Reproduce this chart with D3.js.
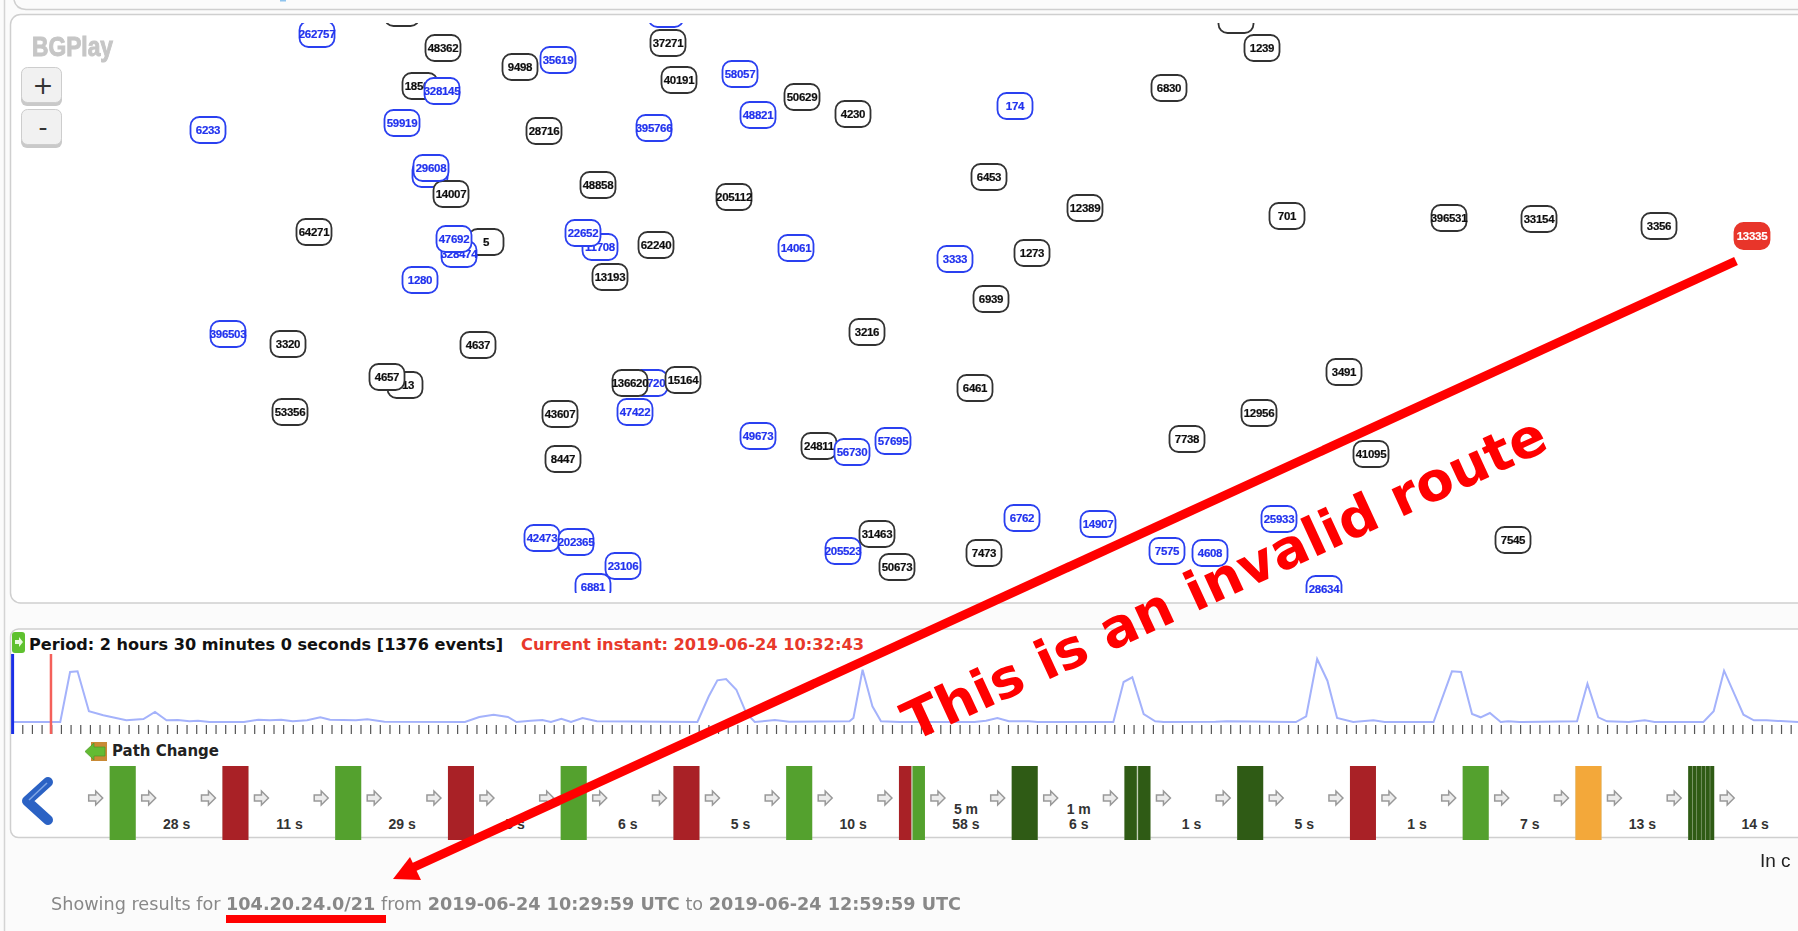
<!DOCTYPE html>
<html>
<head>
<meta charset="utf-8">
<title>BGPlay</title>
<script src="https://d3js.org/d3.v7.min.js"></script>
<style>
  html, body { margin: 0; padding: 0; background: #fbfbfb; overflow: hidden; }
  svg { display: block; }
  text { font-family: "DejaVu Sans", sans-serif; }
  .node text { font-family: "Liberation Sans", sans-serif; font-weight: bold; font-size: 11.5px; letter-spacing: -0.3px; text-anchor: middle; stroke-width: 0.2px; }
</style>
</head>
<body>
<svg id="drawing_region" width="1798" height="931"></svg>
<script>
// AS graph, position in layout units, kind b = black, u = blue, r = red (origin)
const nodeAs = ["", "", "262757", "48362", "37271", "9498", "35619", "40191", "58057", "18506", "328145", "50629", "48821", "4230",
  "6233", "59919", "28716", "395766", "29000", "14007", "29608", "48858", "205112", "64271", "5", "328474", "47692", "11708", "22652",
  "62240", "14061", "1280", "13193", "", "1239", "6830", "174", "6453", "12389", "701", "396531", "33154", "3356", "13335", "3333",
  "1273", "6939", "396503", "3320", "4637", "3216", "513", "4657", "37720", "136620", "15164", "53356", "43607", "47422", "49673",
  "24811", "56730", "57695", "8447", "42473", "202365", "6881", "23106", "205523", "31463", "50673", "6461", "3491", "12956", "7738",
  "41095", "6762", "14907", "7575", "4608", "25933", "7473", "7545", "28634", ""];
const nodeX = [402, 666, 317, 443, 668, 520, 558, 679, 740, 420, 442, 802, 758, 853,
  208, 402, 544, 654, 430, 451, 431, 598, 734, 314, 486, 459, 454, 600, 583,
  656, 796, 420, 610, 1236, 1262, 1169, 1015, 989, 1085, 1287, 1449, 1539, 1659, 1752, 955,
  1032, 991, 228, 288, 478, 867, 405, 387, 650, 630, 683, 290, 560, 635, 758,
  819, 852, 893, 563, 542, 576, 593, 623, 843, 877, 897, 975, 1344, 1259, 1187,
  1371, 1022, 1098, 1167, 1210, 1279, 984, 1513, 1324, 1549];
const nodeY = [12, 13, 33, 47, 42, 66, 59, 79, 73, 85, 90, 96, 114, 113,
  129, 122, 130, 127, 173, 193, 167, 184, 196, 231, 241, 253, 238, 246, 232,
  244, 247, 279, 276, 19, 47, 87, 105, 176, 207, 215, 217, 218, 225, 235, 258,
  252, 298, 333, 343, 344, 331, 384, 376, 382, 382, 379, 411, 413, 411, 435,
  445, 451, 440, 458, 537, 541, 586, 565, 550, 533, 566, 387, 371, 412, 438,
  453, 517, 523, 550, 552, 518, 552, 539, 588, 606];
const nodeKind = ["b", "u", "u", "b", "b", "b", "u", "b", "u", "b", "u", "b", "u", "b",
  "u", "u", "b", "u", "u", "b", "u", "b", "b", "b", "b", "u", "u", "u", "u",
  "b", "u", "u", "b", "b", "b", "b", "u", "b", "b", "b", "b", "b", "b", "r", "u",
  "b", "b", "u", "b", "b", "b", "b", "b", "u", "b", "b", "b", "b", "u", "u",
  "b", "u", "u", "b", "u", "u", "u", "u", "u", "b", "b", "b", "b", "b", "b",
  "b", "u", "u", "u", "u", "u", "b", "b", "u", "b"];

// events per timeline step, time in minutes from 10:29:59
const eventT = [0, 3.39, 4.09, 4.62, 5.43, 6.45, 8.09, 9.31, 10.13, 10.95, 11.76, 12.58, 13.19, 14.01, 16.46, 17.48, 18.3, 19.11, 19.93,
  20.95, 21.89, 22.58, 24.42, 25.24, 26.46, 32.18, 33.2, 34.22, 35.24, 35.85, 36.87, 37.69, 38.3, 39.04, 39.73, 40.55, 41.57, 48.72,
  49.53, 50.14, 50.76, 51.49, 52.19, 52.8, 54.23, 55.25, 59.54, 59.82, 60.47, 61.17, 61.78, 63.12, 68.43, 69.25, 70.06, 70.88, 72.31,
  72.92, 78.31, 79.04, 79.66, 80.47, 81.29, 81.9, 85.58, 86.39, 91.3, 92.03, 92.81, 93.54, 94.23, 95.38, 96.81, 97.62, 101.09, 102.4,
  103.05, 103.83, 104.44, 105.1, 105.87, 106.4, 107.22, 111.3, 112.04, 112.81, 113.43, 114.98, 116.12, 116.82, 120.29, 121.02, 121.76,
  122.41, 123.14, 123.88, 124.78, 127.02];
const eventV = [0, 0, 50, 50.7, 10.7, 6.7, 1.7, 3, 10, 1.7, 2, 0.7, 1.3, 0, 0, 2.3, 1.7, 2.3, 0.7,
  1.7, 4.7, 2.3, 1.7, 2.7, 0.3, 0, 5, 7.3, 5, 0, 1.3, 2, 0, 3.3, 0, 4, 0.7, 0,
  25.7, 41.7, 43, 32.3, 9, 0, 2, 0.3, 0.7, 4, 52.3, 15.7, 0.7, 0, 0, 1.3, 4, 0.7, 0.7,
  0, 0, 40, 44.7, 8, 0.7, 0, 0.3, 0.7, 0, 5.7, 63, 41.3, 4, 0, 1.7, 0, 0, 50.7,
  50, 8, 4.7, 9, 0, 0.7, 0, 0.7, 38.3, 4.7, 0.7, 0, 1.7, 0, 0, 10.7, 51.3,
  30.7, 7.3, 1.7, 1.7, 0];
const currentInstant = 2.73;
const tickStep = 0.6875;

const pathChangeKinds = ["g", "r", "g", "r", "g", "r", "g", "rg", "d", "dd", "d", "r", "g", "o", "dddddd"];
const pathChangeGaps = [["28 s"], ["11 s"], ["29 s"], ["5 s"], ["6 s"], ["5 s"], ["10 s"], ["5 m", "58 s"], ["1 m", "6 s"], ["1 s"],
  ["5 s"], ["1 s"], ["7 s"], ["13 s"], ["14 s"]];
const kindColor = { g: "#54a12e", r: "#a92126", d: "#2f5b15", o: "#f3a83a" };

const svg = d3.select("#drawing_region");

const defs = svg.append("defs");
defs.append("clipPath").attr("id", "graph_clip")
  .append("rect").attr("x", 0).attr("y", 23).attr("width", 1798).attr("height", 570);
const soft = defs.append("filter").attr("id", "soft");
soft.append("feGaussianBlur").attr("stdDeviation", 0.35);

// page panels
svg.append("path").attr("d", "M4.5,0V931").attr("stroke", "#d4d4d4").attr("stroke-width", 1.5);
svg.append("path").attr("d", "M14,0Q16,9 26,9.5H1798").attr("fill", "none").attr("stroke", "#cfcfcf").attr("stroke-width", 1.5);
svg.append("rect").attr("x", 280).attr("y", 0).attr("width", 6).attr("height", 1.5).attr("fill", "#8fc4ee");

svg.append("rect").attr("x", 10.5).attr("y", 14.5).attr("width", 1830).attr("height", 588.5)
  .attr("rx", 10).attr("fill", "#fff").attr("stroke", "#cfcfcf").attr("stroke-width", 1.5);
svg.append("rect").attr("x", 10.5).attr("y", 629).attr("width", 1830).attr("height", 208.5)
  .attr("rx", 8).attr("fill", "#fff").attr("stroke", "#cfcfcf").attr("stroke-width", 1.5);

// logo + zoom buttons
svg.append("text").attr("x", 32).attr("y", 56).text("BGPlay")
  .attr("fill", "#c6c6c6").attr("stroke", "#c6c6c6").attr("stroke-width", 1).attr("filter", "url(#soft)")
  .style("font-family", "Liberation Sans").style("font-weight", "bold").style("font-size", "27px")
  .attr("textLength", 81).attr("lengthAdjust", "spacingAndGlyphs");

const buttons = svg.append("g").selectAll("g").data(["+", "-"]).join("g")
  .attr("transform", (d, i) => `translate(21,${67 + i * 42})`);
buttons.append("rect").attr("y", 2).attr("width", 41).attr("height", 37).attr("rx", 6).attr("fill", "#c9c9c9");
buttons.append("rect").attr("x", 0.5).attr("y", 0.5).attr("width", 40).attr("height", 35).attr("rx", 6)
  .attr("fill", "#f1f1f1").attr("stroke", "#cdcdcd");
buttons.append("text").attr("x", 22).attr("y", 27).text(d => d)
  .attr("text-anchor", "middle").attr("fill", "#333").style("font-size", "25px");

// AS nodes
const xNode = d3.scaleLinear().domain([0, 1798]).range([0, 1798]);
const yNode = d3.scaleLinear().domain([0, 931]).range([1, 932]);
const nodeData = nodeAs.map((as, i) => ({ as, x: nodeX[i], y: nodeY[i], kind: nodeKind[i] }));
const nodeStroke = { b: "#333", u: "#2a3ff0", r: "#e8352a" };
const nodeText = { b: "#111", u: "#2233ee", r: "#fff" };

const nodes = svg.append("g").attr("clip-path", "url(#graph_clip)").append("g").attr("filter", "url(#soft)")
  .selectAll("g").data(nodeData).join("g")
  .attr("class", "node")
  .attr("transform", d => `translate(${xNode(d.x)},${yNode(d.y)})`);
nodes.append("rect").attr("x", -17.5).attr("y", -13).attr("width", 35).attr("height", 26).attr("rx", 9)
  .attr("fill", d => d.kind === "r" ? nodeStroke.r : "#fff")
  .attr("stroke", d => nodeStroke[d.kind]).attr("stroke-width", 1.8);
nodes.append("text").attr("y", 4).text(d => d.as)
  .attr("fill", d => nodeText[d.kind]).attr("stroke", d => nodeText[d.kind]);

// timeline
const xTime = d3.scaleLinear().domain([0, 127.02]).range([12.6, 1798]);
const yEvents = d3.scaleLinear().domain([0, 63]).range([722, 659]);

svg.append("text").attr("x", 29).attr("y", 650).text("Period: 2 hours 30 minutes 0 seconds [1376 events]")
  .attr("fill", "#111").style("font-weight", "bold").style("font-size", "15.5px")
  .attr("textLength", 474).attr("lengthAdjust", "spacingAndGlyphs");
svg.append("text").attr("x", 521).attr("y", 650).text("Current instant: 2019-06-24 10:32:43")
  .attr("fill", "#e8392b").style("font-weight", "bold").style("font-size", "15.5px")
  .attr("textLength", 343).attr("lengthAdjust", "spacingAndGlyphs");

const axisTicks = d3.axisBottom(xTime)
  .tickValues(d3.range(tickStep, 127.02, tickStep))
  .tickSize(9).tickFormat("");
svg.append("g").attr("transform", "translate(0,725)").call(axisTicks)
  .call(g => g.select(".domain").remove())
  .selectAll("line").attr("stroke", "#555").attr("stroke-width", 1.2);

const eventLine = d3.line().x((d, i) => xTime(eventT[i])).y(d => yEvents(d));
svg.append("path").datum(eventV).attr("d", eventLine)
  .attr("fill", "none").attr("stroke", "#a4b2fb").attr("stroke-width", 2).attr("filter", "url(#soft)");

svg.append("line").attr("x1", xTime(0)).attr("x2", xTime(0)).attr("y1", 654).attr("y2", 734)
  .attr("stroke", "#1a2fe6").attr("stroke-width", 3);
svg.append("line").attr("x1", xTime(currentInstant)).attr("x2", xTime(currentInstant)).attr("y1", 654).attr("y2", 734)
  .attr("stroke", "#f4605a").attr("stroke-width", 2.5);

const periodIcon = svg.append("g").attr("transform", "translate(12,632)");
periodIcon.append("rect").attr("width", 13).attr("height", 21).attr("rx", 3).attr("fill", "#5fc12f");
periodIcon.append("path").attr("d", "M3,8H7V5L11,10L7,15V12H3Z").attr("fill", "#eafbe0");

const changeIcon = svg.append("g").attr("transform", "translate(85,742)");
changeIcon.append("rect").attr("x", 6).attr("width", 16).attr("height", 19).attr("fill", "#c98a35");
changeIcon.append("path").attr("d", "M0,9.5L9,1V5H20V14H9V18Z").attr("fill", "#63bb33").attr("stroke", "#4c9a26").attr("stroke-width", 0.7);

svg.append("text").attr("x", 112).attr("y", 756).text("Path Change")
  .attr("fill", "#222").style("font-weight", "bold").style("font-size", "15px")
  .attr("textLength", 107).attr("lengthAdjust", "spacingAndGlyphs");

svg.append("path").attr("d", "M48,782L27,801L48,820")
  .attr("fill", "none").attr("stroke", "#2b62c4").attr("stroke-width", 10)
  .attr("stroke-linecap", "round").attr("stroke-linejoin", "round");
svg.append("path").attr("d", "M47,783L29,800").attr("stroke", "#7fa6e6").attr("stroke-width", 1.5).attr("fill", "none");

// path change strip
const xChange = d3.scaleLinear().domain([0, 1]).range([109.7, 222.45]);
const barW = 26;
const arrowPath = "M-7,-3H0V-7L7,0L0,7V3H-7Z";

const change = svg.append("g").selectAll("g").data(pathChangeKinds).join("g")
  .attr("transform", (d, i) => `translate(${xChange(i)},0)`);

change.each(function (kinds) {
  const g = d3.select(this);
  const parts = kinds.split("");
  const band = d3.scaleBand().domain(d3.range(parts.length)).range([0, barW]).paddingInner(parts.length > 1 ? 0.1 : 0);
  g.append("rect").attr("class", "under").attr("y", 766).attr("width", barW).attr("height", 74).attr("fill", "#c3cfb8");
  g.selectAll("rect.part").data(parts).join("rect")
    .attr("class", "part")
    .attr("x", (d, i) => band(i)).attr("y", 766).attr("width", band.bandwidth()).attr("height", 74)
    .attr("fill", d => kindColor[d]);
  g.selectAll("path").data([-14, barW + 13]).join("path")
    .attr("d", arrowPath).attr("transform", d => `translate(${d},798)`)
    .attr("fill", "#ececec").attr("stroke", "#999").attr("stroke-width", 1.5).attr("filter", "url(#soft)");
});

change.append("text").attr("text-anchor", "middle").attr("fill", "#333")
  .style("font-family", "Liberation Sans").style("font-weight", "bold").style("font-size", "14px")
  .selectAll("tspan").data((d, i) => pathChangeGaps[i].map((t, j, all) => ({ t, y: 829 - (all.length - 1 - j) * 15 }))).join("tspan")
  .attr("x", 67).attr("y", d => d.y).text(d => d.t);

svg.append("text").attr("x", 1760).attr("y", 867).text("In c")
  .attr("fill", "#222").style("font-family", "Liberation Sans").style("font-size", "19px");

// footer line
const footer = svg.append("text").attr("x", 51).attr("y", 910)
  .attr("fill", "#888").style("font-size", "17.65px");
[["Showing results for ", false], ["104.20.24.0/21", true], [" from ", false], ["2019-06-24 10:29:59 UTC", true], [" to ", false], ["2019-06-24 12:59:59 UTC", true]]
  .forEach(p => footer.append("tspan").text(p[0]).style("font-weight", p[1] ? "bold" : "normal"));

// red annotation
const note = svg.append("g");
note.append("line").attr("x1", 1736).attr("y1", 261).attr("x2", 412).attr("y2", 868)
  .attr("stroke", "#f00").attr("stroke-width", 9);
note.append("path").attr("d", "M393,879L410,857L421,880Z").attr("fill", "#f00");
note.append("rect").attr("x", 226).attr("y", 915).attr("width", 160).attr("height", 8).attr("fill", "#f00");
note.append("text").attr("transform", "translate(913,742) rotate(-24.7)").text("This is an invalid route")
  .attr("fill", "#f00").style("font-weight", "bold").style("font-size", "54px")
  .attr("textLength", 702).attr("lengthAdjust", "spacingAndGlyphs");
</script>
</body>
</html>
